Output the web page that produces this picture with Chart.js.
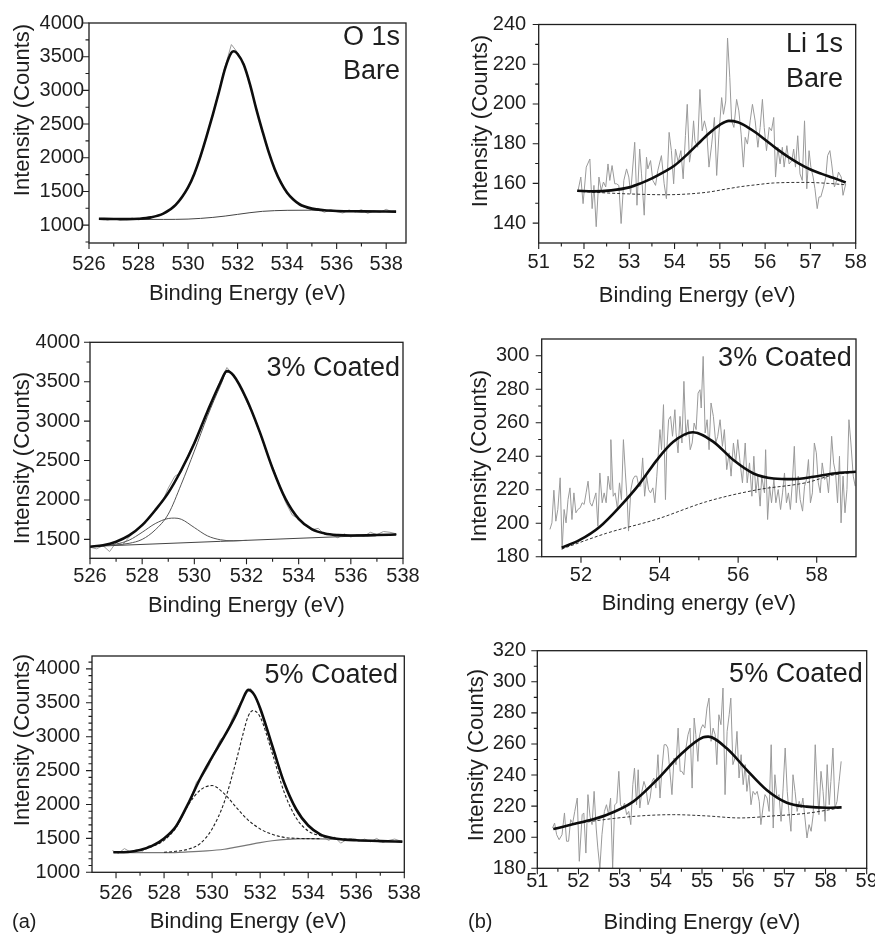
<!DOCTYPE html>
<html lang="en">
<head>
<meta charset="UTF-8" />
<title>XPS O 1s / Li 1s spectra</title>
<script src="https://cdn.jsdelivr.net/npm/chart.js"></script>
<style>
  body { margin: 0; background: #fff; overflow: hidden; }
  #page { position: relative; width: 875px; height: 934px; overflow: hidden; font-family: 'Liberation Sans', Arial, sans-serif; }
  #page canvas { position: absolute; }
  .tag { position: absolute; font-size: 20px; line-height: 24px; color: #1e1e1e; }
</style>
</head>
<body>
<div id="page">
  <canvas id="a1"></canvas>
  <canvas id="b1"></canvas>
  <canvas id="a2"></canvas>
  <canvas id="b2"></canvas>
  <canvas id="a3"></canvas>
  <canvas id="b3"></canvas>
  <div class="tag" style="left:12px;top:909px">(a)</div>
  <div class="tag" style="left:468px;top:909px">(b)</div>
</div>

<script>
// ---- O 1s, bare ----
const o1sBareRawX = [526.5,526.75,527,527.25,527.5,527.75,528,528.25,528.5,528.75,529,529.25,529.5,529.75,530,530.25,530.5,530.75,531,531.25,531.5,531.75,532,532.25,532.5,532.75,533,533.25,533.5,533.75,534,534.25,534.5,534.75,535,535.25,535.5,535.75,536,536.25,536.5,536.75,537,537.25,537.5,537.75,538,538.25];
const o1sBareRawY = [1100,1075,1098,1070,1085,1105,1078,1100,1120,1140,1175,1220,1310,1400,1550,1770,2000,2330,2650,3000,3360,3680,3560,3400,3070,2750,2380,2110,1810,1650,1460,1400,1290,1260,1230,1250,1190,1230,1200,1180,1225,1195,1230,1175,1210,1190,1235,1195];
const o1sBareFitX = [526.4,527,527.5,528,528.5,529,529.5,530,530.25,530.5,530.75,531,531.25,531.5,531.75,531.85,532,532.25,532.5,532.75,533,533.25,533.5,533.75,534,534.25,534.5,535,535.5,536,537,538.4];
const o1sBareFitY = [1094,1092,1090,1095,1115,1170,1300,1560,1760,2020,2320,2640,2980,3330,3560,3580,3540,3380,3090,2730,2400,2090,1830,1630,1480,1380,1310,1245,1220,1210,1205,1200];
const o1sBareBgX = [526.4,528,529,530,530.5,531,531.5,532,532.5,533,533.5,534,535,536,537,538.4];
const o1sBareBgY = [1090,1085,1085,1090,1100,1115,1135,1160,1185,1205,1215,1220,1222,1215,1208,1200];

// ---- O 1s, 3% coated ----
const o1s3RawX = [526,526.25,526.5,526.75,527,527.25,527.5,527.75,528,528.25,528.5,528.75,529,529.25,529.5,529.75,530,530.25,530.5,530.75,531,531.25,531.5,531.75,532,532.25,532.5,532.75,533,533.25,533.5,533.75,534,534.25,534.5,534.75,535,535.25,535.5,535.75,536,536.25,536.5,536.75,537,537.25,537.5,537.75];
const o1s3RawY = [1400,1380,1420,1345,1460,1430,1530,1610,1690,1760,1880,1960,2150,2300,2350,2560,2740,2900,3130,3300,3520,3680,3580,3450,3250,3080,2860,2620,2420,2200,1970,1810,1760,1680,1620,1640,1560,1560,1520,1570,1530,1560,1540,1590,1560,1600,1590,1570];
const o1s3FitX = [526,526.5,527,527.5,528,528.5,529,529.5,530,530.5,531,531.25,531.5,532,532.5,533,533.5,534,534.5,535,535.5,536,537,537.74];
const o1s3FitY = [1407,1425,1470,1550,1680,1870,2090,2380,2720,3120,3490,3635,3580,3280,2870,2400,2010,1760,1630,1575,1555,1550,1555,1562];
const o1s3MainX = [527,527.5,528,528.5,529,529.5,530,530.5,531,531.25,531.5,532,532.5,533,533.5,534,534.5,535,535.5,536,537,537.74];
const o1s3MainY = [1430,1450,1500,1620,1820,2200,2620,3060,3450,3620,3580,3280,2870,2400,2010,1760,1630,1575,1555,1550,1555,1562];
const o1s3SmallX = [526.5,527,527.5,528,528.5,529,529.25,529.5,530,530.5,531,531.5,532];
const o1s3SmallY = [1417,1440,1490,1590,1700,1765,1770,1755,1650,1545,1495,1482,1487];
const o1s3BgX = [526,531,537.74];
const o1s3BgY = [1410,1475,1562];

// ---- O 1s, 5% coated ----
const o1s5RawX = [525.85,526.1,526.35,526.6,526.85,527.1,527.35,527.6,527.85,528.1,528.35,528.6,528.85,529.1,529.35,529.6,529.85,530.1,530.35,530.6,530.85,531.1,531.35,531.6,531.85,532.1,532.35,532.6,532.85,533.1,533.35,533.6,533.85,534.1,534.35,534.6,534.85,535.1,535.35,535.6,535.85,536.1,536.35,536.6,536.85,537.1,537.35,537.6,537.85];
const o1s5RawY = [1320,1280,1350,1300,1330,1310,1390,1400,1460,1510,1590,1720,1890,2080,2330,2420,2560,2780,2960,3040,3280,3450,3600,3710,3540,3280,3010,2740,2460,2230,2010,1840,1760,1660,1600,1530,1470,1520,1430,1480,1500,1460,1490,1450,1500,1440,1470,1490,1460];
const o1s5FitX = [525.89,526.5,527,527.5,528,528.5,529,529.5,530,530.5,531,531.25,531.5,531.75,532,532.5,533,533.5,534,534.5,535,535.5,536,537,537.92];
const o1s5FitY = [1295,1300,1330,1390,1500,1680,2010,2380,2700,3000,3330,3530,3690,3620,3420,2870,2320,1930,1690,1560,1505,1482,1472,1460,1452];
const o1s5Comp1X = [527,527.5,528,528.5,529,529.5,530,530.5,531,531.5,532,532.5,533,533.5,534,534.5];
const o1s5Comp1Y = [1320,1380,1470,1660,1990,2210,2280,2160,1960,1770,1640,1560,1515,1500,1497,1497];
const o1s5Comp2X = [528,528.5,529,529.5,530,530.5,531,531.25,531.5,531.71,532,532.5,533,533.5,534,534.5,535,535.5,536];
const o1s5Comp2Y = [1295,1310,1340,1423,1640,2030,2640,2990,3300,3386,3290,2760,2180,1800,1610,1540,1505,1490,1485];
const o1s5BgX = [525.89,527,528.1,529,529.77,530.5,530.88,531.5,532,532.5,533.1,534,535,536,537,537.92];
const o1s5BgY = [1295,1290,1290,1300,1315,1340,1364,1405,1438,1465,1487,1497,1490,1472,1460,1452];

// ---- Li 1s, bare ----
const li1sBareRawX = [51.87,51.93,51.98,52.05,52.13,52.18,52.22,52.27,52.33,52.38,52.43,52.48,52.53,52.57,52.62,52.68,52.72,52.77,52.82,52.88,52.94,52.99,53.03,53.12,53.17,53.23,53.27,53.33,53.38,53.41,53.47,53.52,53.58,53.63,53.71,53.77,53.82,53.88,53.93,53.98,54.02,54.08,54.14,54.19,54.24,54.28,54.33,54.38,54.42,
  54.45,54.51,54.56,54.61,54.66,54.71,54.76,54.82,54.88,54.93,54.98,55.04,55.08,55.13,55.17,55.22,55.26,55.31,55.37,55.42,55.47,55.52,55.56,55.61,55.67,55.72,55.78,55.84,55.89,55.94,55.98,56.03,56.09,56.14,56.19,56.23,56.28,56.33,56.38,56.42,56.48,56.53,56.59,56.63,56.67,56.72,56.77,56.82,56.87,56.92,56.97,57.01,57.06,57.10,57.15,57.19,57.23,57.29,57.34,57.38,57.43,57.47,57.53,57.58,57.62,57.68,57.72,57.78];
const li1sBareRawY = [156.5,163.2,149.8,168.2,172.3,147.3,159,138.2,163.2,156.5,160.7,158.2,169.8,161.5,169,159.8,159.8,159,139.8,161.5,167.3,163.2,154.8,180.7,149,177.3,164.8,144,173.2,167.3,171.5,161.5,159,166.5,174,159.8,152.3,185.7,176.5,159.8,177.3,170.7,176.5,162.3,184,199.8,170.7,178.2,191.5,
  181.5,178.2,207.3,186.5,191.5,186.5,168.2,179.8,193.2,164,184.8,203.2,194.8,201.5,233.2,213.2,191.5,188.2,202.3,196.5,184.8,168.2,183.2,179.8,191.5,199.8,191.5,178.2,188.2,202.3,188.2,176.5,188.2,186.5,193.2,163.2,178.2,169.8,178.2,168.2,179,169.8,171.5,177.3,168.2,184,164.8,161.5,191.5,157.3,176.5,168.2,163.2,157.3,147.3,153.2,153.2,158.2,163.2,174,176.5,169.8,158.2,161.5,165.7,163.2,154,159.8];
const li1sBareFitX = [51.85,52.2,52.6,53,53.25,53.5,53.75,54,54.25,54.5,54.75,55,55.2,55.4,55.6,55.8,56,56.25,56.5,56.75,57,57.25,57.5,57.78];
const li1sBareFitY = [156.3,156,156.5,158,160,162.5,165.5,169,174,179.5,185,189.5,191.5,190.8,188.5,185.5,182,177.5,173.5,170,167,164.8,162.8,160.5];
const li1sBareBgX = [51.85,52.5,53,53.8,54.7,55.15,55.44,55.8,56.18,56.9,57.4,57.78];
const li1sBareBgY = [156,155.2,154.7,154.3,155.5,157.2,158.3,159.3,160.2,160.5,160,159.3];

// ---- Li 1s, 3% coated ----
const li1s3RawX = [51.21,51.26,51.31,51.36,51.41,51.47,51.52,51.57,51.62,51.67,51.72,51.77,51.82,51.87,51.92,51.98,52.03,52.08,52.13,52.18,52.23,52.28,52.33,52.38,52.43,52.48,52.54,52.59,52.64,52.69,52.74,52.76,52.82,52.87,52.93,52.98,53.03,53.08,53.13,53.18,53.21,53.27,53.32,53.37,53.42,53.47,53.52,53.57,53.62,53.67,53.72,53.77,53.83,53.88,53.93,53.97,54.01,54.05,54.10,54.15,54.18,54.23,54.28,54.33,54.39,54.42,54.47,54.52,54.57,54.62,54.67,54.72,54.78,54.83,54.88,54.93,54.98,55.03,
  55.06,55.11,55.16,55.21,55.26,55.31,55.37,55.43,55.48,55.54,55.60,55.65,55.71,55.77,55.82,55.88,55.94,55.99,56.05,56.11,56.18,56.23,56.29,56.35,56.40,56.45,56.50,56.56,56.60,56.67,56.70,56.75,56.80,56.85,56.91,56.96,57.02,57.08,57.13,57.18,57.23,57.28,57.33,57.38,57.43,57.48,57.53,57.58,57.64,57.69,57.74,57.79,57.84,57.89,57.94,57.99,58.04,58.09,58.14,58.20,58.25,58.30,58.34,58.38,58.43,58.48,58.53,58.58,58.62,58.67,58.72,58.77,58.82,58.87,58.93,58.98];
const li1s3RawY = [196.3,200.2,219.7,201.2,208.2,227.1,184.3,208.2,200.2,214.1,221.1,202.2,218.1,206.2,208.2,209.2,212.2,211.2,218.1,225.1,212.2,210.2,214.1,218.1,198.2,230,212.2,218.1,212.2,228.1,220.1,249.9,216.1,218.1,208.2,224.1,214.1,249.9,230,212.2,195.3,220.1,226.1,228.1,228.1,222.1,222.1,239,216.1,228.1,220.1,218.1,221.1,212.2,228.1,242,255.9,243.9,270.8,214.1,242,261.8,263.8,251.9,267.8,253.9,242,263.8,247.9,284.7,251.9,261.8,243.9,247.9,259.8,255.9,277.7,279.7,
  268.8,299.6,253.9,261.8,243.9,271.8,263.8,247.9,251.9,261.8,245.9,255.9,232,242,228.1,247.9,236,249.9,236,224.1,247.9,224.1,236,216.1,240,218.1,228.1,210.2,228.1,218.1,243.9,202.2,222.1,212.2,226.1,212.2,220.1,208.2,218.1,230,212.2,218.1,208.2,224.1,245.9,212.2,228.1,214.1,207.2,222.1,226.1,238,212.2,218.1,247.9,242,224.1,218.1,236,226.1,228.1,218.1,232,251.9,236,230,212.2,240,200.2,228.1,206.2,220.1,261.8,247.9,228.1,222.1];
const li1s3FitX = [51.51,51.97,52.48,52.99,53.5,53.93,54.35,54.85,55.37,55.88,56.39,56.9,57.41,57.92,58.42,59];
const li1s3FitY = [185.4,190,197.9,209.9,223.8,237.7,248.6,254.3,248.6,237.7,229.7,226.7,226.3,227.7,229.7,230.7];
const li1s3BgX = [51.51,52.65,53.93,55.2,56.47,57.75,58.42,59];
const li1s3BgY = [184.6,194,202.4,212.9,219.9,224.3,228.8,230.5];

// ---- Li 1s, 5% coated ----
const li1s5RawX = [51.37,51.42,51.47,51.53,51.60,51.66,51.71,51.76,51.81,51.86,51.91,51.97,52.02,52.09,52.13,52.18,52.23,52.28,52.33,52.38,52.43,52.47,52.52,52.57,52.63,52.68,52.73,52.78,52.83,52.88,52.93,52.98,53.02,53.07,53.12,53.17,53.22,53.27,53.32,53.36,53.41,53.45,53.49,53.54,53.59,53.64,53.69,53.74,53.79,53.83,53.88,53.93,53.98,54.03,54.08,54.13,54.17,54.22,54.27,54.32,54.37,54.42,54.47,54.51,54.56,54.61,54.66,54.71,54.76,54.81,54.85,54.90,
  54.93,54.98,55.02,55.07,55.12,55.17,55.22,55.27,55.32,55.36,55.41,55.46,55.51,55.56,55.61,55.66,55.70,55.75,55.80,55.85,55.90,55.95,56.00,56.05,56.09,56.14,56.19,56.24,56.29,56.34,56.39,56.43,56.48,56.53,56.58,56.63,56.68,56.73,56.77,56.82,56.87,56.92,56.97,57.02,57.07,57.11,57.16,57.21,57.26,57.31,57.36,57.41,57.45,57.50,57.55,57.60,57.65,57.70,57.75,57.79,57.84,57.89,57.94,57.99,58.04,58.09,58.13,58.18,58.23,58.28,58.33,58.38];
const li1s5RawY = [205.9,209.1,201.6,198.4,201.6,215.6,197.4,197.4,211.3,209.1,216.6,225.2,184.5,214.5,215.6,189.8,227.4,213.4,208.1,229.5,205.9,193.1,180.2,201.6,216.6,220.9,214.5,225.2,180.2,220.9,222,242.4,220.9,218.8,222,214.5,216.6,208.1,233.8,244.5,220.9,243.4,218.8,229.5,235.9,231.6,220.9,225.2,235.9,238.1,231.6,253.1,225.2,244.5,259.5,259.5,257.4,242.4,227.4,250.9,246.7,270.2,242.4,242.4,240.2,257.4,265.9,270.2,231.6,276.7,265.9,248.8,
  263.8,270.2,272.4,270.2,283.1,289.5,261.7,270.2,265.9,246.7,278.8,272.4,296,227.4,268.1,278.8,289.5,246.7,250.9,268.1,238.1,253.1,233.8,246.7,229.5,240.2,220.9,229.5,227.4,229.5,223.1,208.1,218.8,227.4,225.2,216.6,259.5,205.9,240.2,225.2,227.4,210.2,231.6,257.4,229.5,216.6,203.8,240.2,229.5,216.6,223.1,218.8,225.2,212.4,199.5,208.1,203.8,214.5,259.5,235.9,214.5,242.4,229.5,210.2,246.7,220.9,235.9,257.4,218.8,223.1,235.9,248.8];
const li1s5FitX = [51.39,52.04,52.68,53.33,53.9,54.47,55.03,55.15,55.6,56.09,56.57,57.06,57.54,58.03,58.39];
const li1s5FitY = [205.3,209.4,214.3,222.9,236.8,252.9,264.3,264.7,257.2,243.2,230.4,222.2,219.7,219,219.2];
const li1s5BgX = [51.39,52.04,52.68,53.49,54.3,55.11,55.92,56.73,57.54,58.39];
const li1s5BgY = [205.3,209,211.5,213.7,214.5,213.7,212.4,213.7,215.4,219];

// ---- tick labels ----
const oTicksX = [526,528,530,532,534,536,538];
const oTicksY = [1000,1500,2000,2500,3000,3500,4000];
const o3TicksY = [1500,2000,2500,3000,3500,4000];
const liBareTicksX = [51,52,53,54,55,56,57,58];
const liBareTicksY = [140,160,180,200,220,240];
const li3TicksX = [52,54,56,58];
const li3TicksY = [180,200,220,240,260,280,300];
const li5TicksX = [51,52,53,54,55,56,57,58,59];
const li5TicksY = [180,200,220,240,260,280,300,320];

const INK = '#1e1e1e';
const FAMILY = "'Liberation Sans', Arial, Helvetica, sans-serif";
Chart.defaults.font.family = FAMILY;
Chart.defaults.color = INK;

function pts(xs, ys) { return xs.map((x, i) => ({ x: x, y: ys[i] })); }
function fitLine(xs, ys) {
  return { data: pts(xs, ys), borderColor: '#0d0d0d', borderWidth: 2.6, cubicInterpolationMode: 'monotone' };
}
function rawLine(xs, ys) {
  return { data: pts(xs, ys), borderColor: '#9a9a9a', borderWidth: 1, tension: 0 };
}
function thinLine(xs, ys, color, dash, width) {
  return { data: pts(xs, ys), borderColor: color, borderWidth: width || 1, borderDash: dash || [], cubicInterpolationMode: 'monotone' };
}

function minorValues(min, max, step, majors) {
  const out = [];
  const k0 = Math.ceil(min / step - 1e-9), k1 = Math.floor(max / step + 1e-9);
  for (let k = k0; k <= k1; k++) {
    const v = +(k * step).toFixed(6);
    if (Math.abs(v - min) < 1e-6 || Math.abs(v - max) < 1e-6) continue;
    if (majors.some(m => Math.abs(m - v) < 1e-6)) continue;
    out.push(v);
  }
  return out;
}

function drawPanel(p) {
  const cv = document.getElementById(p.id);
  const c = p.cell;
  cv.width = c.w; cv.height = c.h;
  cv.style.left = c.x + 'px'; cv.style.top = c.y + 'px';
  const titleBottom = p.xTitleY + 13.2;

  const deco = {
    id: 'deco',
    afterDraw(chart) {
      const { ctx, chartArea: a, scales } = chart;
      const sx = scales.x, sy = scales.y;
      ctx.save();
      ctx.strokeStyle = INK;
      ctx.lineWidth = 1.3;
      ctx.strokeRect(a.left, a.top, a.right - a.left, a.bottom - a.top);
      ctx.lineWidth = 1.1;
      ctx.beginPath();
      p.xTicks.forEach(v => { const q = sx.getPixelForValue(v); ctx.moveTo(q, a.bottom); ctx.lineTo(q, a.bottom + 6); });
      minorValues(sx.min, sx.max, p.xMinor, p.xTicks).forEach(v => { const q = sx.getPixelForValue(v); ctx.moveTo(q, a.bottom); ctx.lineTo(q, a.bottom + 3.5); });
      p.yTicks.forEach(v => { const q = sy.getPixelForValue(v); ctx.moveTo(a.left, q); ctx.lineTo(a.left - 6, q); });
      minorValues(sy.min, sy.max, p.yMinor, p.yTicks).forEach(v => { const q = sy.getPixelForValue(v); ctx.moveTo(a.left, q); ctx.lineTo(a.left - 3.5, q); });
      ctx.stroke();

      ctx.fillStyle = INK;
      ctx.font = '22px ' + FAMILY;
      ctx.textAlign = 'center';
      ctx.textBaseline = 'middle';
      ctx.translate(p.yTitle.x - c.x, p.yTitle.y - c.y);
      ctx.rotate(-Math.PI / 2);
      ctx.fillText('Intensity (Counts)', 0, 0);
      ctx.restore();

      ctx.save();
      ctx.fillStyle = INK;
      ctx.font = '27px ' + FAMILY;
      ctx.textAlign = 'right';
      ctx.textBaseline = 'alphabetic';
      p.notes.forEach(n => ctx.fillText(n.text, a.right - n.inset, a.top + n.base));
      ctx.restore();
    }
  };

  new Chart(cv, {
    type: 'line',
    data: { datasets: p.datasets },
    options: {
      responsive: false,
      animation: false,
      events: [],
      layout: { padding: { left: 0, top: p.plot.t - c.y, right: c.x + c.w - p.plot.r, bottom: c.y + c.h - titleBottom } },
      elements: { point: { radius: 0 } },
      plugins: { legend: { display: false }, tooltip: { enabled: false } },
      scales: {
        x: {
          type: 'linear', min: p.xMin, max: p.xMax,
          afterBuildTicks: s => { s.ticks = p.xTicks.map(v => ({ value: v })); },
          afterFit: s => { s.height = titleBottom - p.plot.b; },
          ticks: { callback: v => String(v), padding: p.xPad, color: INK, font: { size: 20 }, maxRotation: 0, autoSkip: false },
          grid: { display: false, drawTicks: false },
          border: { display: false },
          title: { display: true, text: p.xTitle, color: INK, font: { size: 22 }, padding: 0 }
        },
        y: {
          type: 'linear', min: p.yMin, max: p.yMax,
          afterBuildTicks: s => { s.ticks = p.yTicks.map(v => ({ value: v })); },
          afterFit: s => { s.width = p.plot.l - c.x; },
          ticks: { callback: v => String(v), padding: p.yPad, color: INK, font: { size: 20 }, autoSkip: false },
          grid: { display: false, drawTicks: false },
          border: { display: false },
          title: { display: false }
        }
      }
    },
    plugins: [deco]
  });
}

const BIND = 'Binding Energy (eV)';

drawPanel({
  id: 'a1', cell: { x: 0, y: 0, w: 440, h: 310 }, plot: { l: 89, t: 23, r: 406, b: 243 },
  xMin: 526, xMax: 538.8, yMin: 735, yMax: 4000,
  xTicks: oTicksX, yTicks: oTicksY, xMinor: 1, yMinor: 250, xPad: 9, yPad: 5,
  xTitle: BIND, xTitleY: 294, yTitle: { x: 23, y: 110 },
  notes: [{ text: 'O 1s', inset: 6, base: 22 }, { text: 'Bare', inset: 6, base: 56 }],
  datasets: [
    fitLine(o1sBareFitX, o1sBareFitY),
    thinLine(o1sBareBgX, o1sBareBgY, '#444', [], 1),
    rawLine(o1sBareRawX, o1sBareRawY)
  ]
});

drawPanel({
  id: 'b1', cell: { x: 440, y: 0, w: 450, h: 310 }, plot: { l: 538.7, t: 23, r: 855.7, b: 243 },
  xMin: 51, xMax: 58, yMin: 130, yMax: 240,
  xTicks: liBareTicksX, yTicks: liBareTicksY, xMinor: 0.5, yMinor: 10, xPad: 7.5, yPad: 12.5,
  xTitle: BIND, xTitleY: 295.5, yTitle: { x: 481, y: 121 },
  notes: [{ text: 'Li 1s', inset: 12.7, base: 27 }, { text: 'Bare', inset: 12.7, base: 62 }],
  datasets: [
    fitLine(li1sBareFitX, li1sBareFitY),
    thinLine(li1sBareBgX, li1sBareBgY, '#333', [3, 2], 1),
    rawLine(li1sBareRawX, li1sBareRawY)
  ]
});

drawPanel({
  id: 'a2', cell: { x: 0, y: 310, w: 440, h: 310 }, plot: { l: 90, t: 342.3, r: 403, b: 558.3 },
  xMin: 526, xMax: 538, yMin: 1260, yMax: 4000,
  xTicks: oTicksX, yTicks: o3TicksY, xMinor: 1, yMinor: 250, xPad: 6.5, yPad: 10,
  xTitle: BIND, xTitleY: 605.5, yTitle: { x: 23, y: 458 },
  notes: [{ text: '3% Coated', inset: 3, base: 34 }],
  datasets: [
    fitLine(o1s3FitX, o1s3FitY),
    thinLine(o1s3MainX, o1s3MainY, '#555', [], 1),
    thinLine(o1s3SmallX, o1s3SmallY, '#555', [], 1),
    thinLine(o1s3BgX, o1s3BgY, '#444', [], 1),
    rawLine(o1s3RawX, o1s3RawY)
  ]
});

drawPanel({
  id: 'b2', cell: { x: 440, y: 310, w: 450, h: 310 }, plot: { l: 541.7, t: 339, r: 856, b: 556.7 },
  xMin: 51, xMax: 59, yMin: 180, yMax: 310,
  xTicks: li3TicksX, yTicks: li3TicksY, xMinor: 1, yMinor: 10, xPad: 6.3, yPad: 12.4,
  xTitle: 'Binding energy (eV)', xTitleY: 604, yTitle: { x: 480, y: 456 },
  notes: [{ text: '3% Coated', inset: 4.3, base: 27 }],
  datasets: [
    fitLine(li1s3FitX, li1s3FitY),
    thinLine(li1s3BgX, li1s3BgY, '#333', [3, 2], 1),
    rawLine(li1s3RawX, li1s3RawY)
  ]
});

drawPanel({
  id: 'a3', cell: { x: 0, y: 620, w: 440, h: 318 }, plot: { l: 92, t: 656, r: 404.3, b: 872.3 },
  xMin: 525, xMax: 538, yMin: 1000, yMax: 4190,
  xTicks: oTicksX, yTicks: oTicksY, xMinor: 1, yMinor: 100, xPad: 9, yPad: 12,
  xTitle: BIND, xTitleY: 922, yTitle: { x: 23, y: 740 },
  notes: [{ text: '5% Coated', inset: 6.3, base: 27.3 }],
  datasets: [
    fitLine(o1s5FitX, o1s5FitY),
    thinLine(o1s5Comp2X, o1s5Comp2Y, '#222', [3, 2], 1.1),
    thinLine(o1s5Comp1X, o1s5Comp1Y, '#222', [3, 2], 1.1),
    thinLine(o1s5BgX, o1s5BgY, '#777', [], 1.2),
    rawLine(o1s5RawX, o1s5RawY)
  ]
});

drawPanel({
  id: 'b3', cell: { x: 440, y: 620, w: 450, h: 318 }, plot: { l: 537.3, t: 650.7, r: 866.7, b: 868.3 },
  xMin: 51, xMax: 59, yMin: 180, yMax: 320,
  xTicks: li5TicksX, yTicks: li5TicksY, xMinor: 0.5, yMinor: 10, xPad: 1.5, yPad: 11.3,
  xTitle: BIND, xTitleY: 922.5, yTitle: { x: 477, y: 755 },
  notes: [{ text: '5% Coated', inset: 4, base: 31 }],
  datasets: [
    fitLine(li1s5FitX, li1s5FitY),
    thinLine(li1s5BgX, li1s5BgY, '#333', [3, 2], 1),
    rawLine(li1s5RawX, li1s5RawY)
  ]
});
</script>
</body>
</html>
